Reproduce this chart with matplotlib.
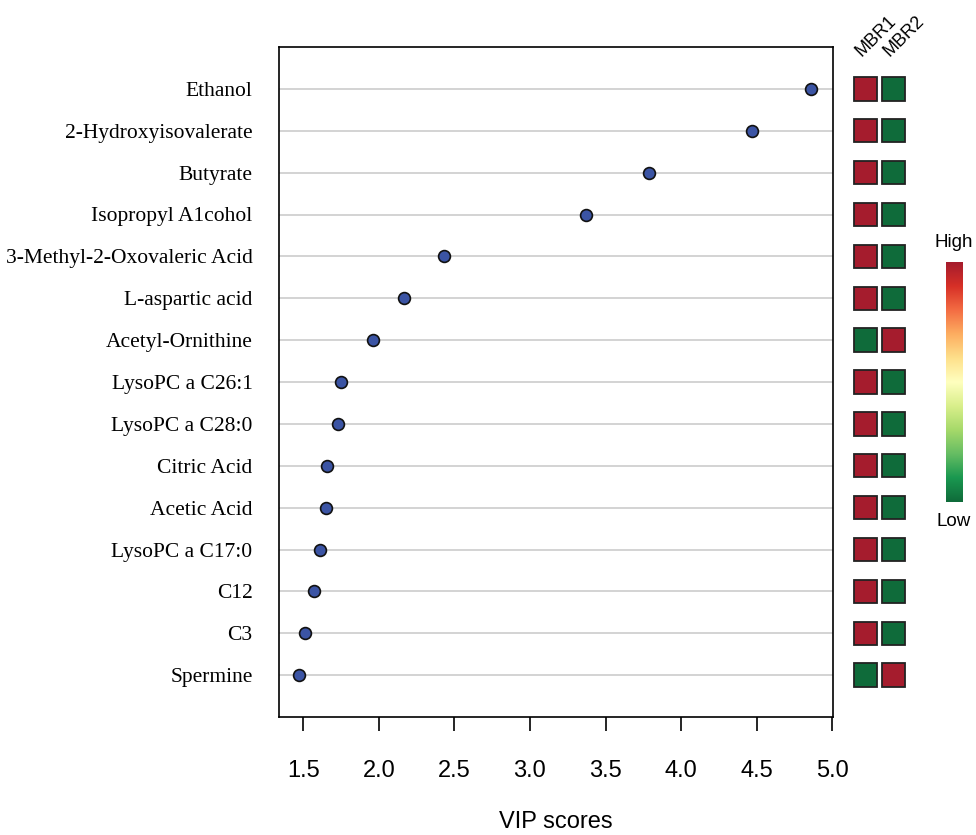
import numpy as np
import matplotlib.pyplot as plt
from matplotlib.patches import Rectangle
from matplotlib.colors import LinearSegmentedColormap

metabolites = ["Ethanol", "2-Hydroxyisovalerate", "Butyrate", "Isopropyl A1cohol",
               "3-Methyl-2-Oxovaleric Acid", "L-aspartic acid", "Acetyl-Ornithine",
               "LysoPC a C26:1", "LysoPC a C28:0", "Citric Acid", "Acetic Acid",
               "LysoPC a C17:0", "C12", "C3", "Spermine"]
vip = [4.86, 4.47, 3.79, 3.37, 2.43, 2.17, 1.96, 1.75, 1.73, 1.66, 1.65, 1.61, 1.57, 1.51, 1.47]
# relative level per group: 1 = high, 0 = low
mbr1 = [1, 1, 1, 1, 1, 1, 0, 1, 1, 1, 1, 1, 1, 1, 0]
mbr2 = [0, 0, 0, 0, 0, 0, 1, 0, 0, 0, 0, 0, 0, 0, 1]
groups = ["MBR1", "MBR2"]
ticks = [1.5, 2.0, 2.5, 3.0, 3.5, 4.0, 4.5, 5.0]

W, H = 976, 835
fig = plt.figure(figsize=(W / 100, H / 100), dpi=100)
cmap = LinearSegmentedColormap.from_list(
    "key", ["#0f6b3a", "#1a9850", "#66bd63", "#a6d96a", "#d9ef8b", "#ffffbf",
            "#fee08b", "#fdae61", "#f46d43", "#d73027", "#a51c2d"])

n = len(metabolites)
ypos = np.arange(n, 0, -1)  # first item at the top

# main dot chart
ax = fig.add_axes([279 / W, 1 - 717 / H, (833 - 279) / W, (717 - 47) / H])
for y in ypos:
    ax.axhline(y, color="#cccccc", lw=1.2, zorder=1)
ax.plot(vip, ypos, "o", ms=8.5, mfc="#3b54a4", mec="#111111", mew=1.2, zorder=3)
ax.set_xlim(1.34, 5.005)
ax.set_ylim(0, n + 1)
ax.set_yticks(ypos)
ax.set_yticklabels(metabolites, family="Liberation Serif", fontsize=15.5)
ax.tick_params(axis="y", length=0, pad=19)
ax.set_xticks(ticks)
ax.set_xticklabels(["%.1f" % t for t in ticks], family="Liberation Sans", fontsize=17)
ax.tick_params(axis="x", length=10, width=1.2, pad=21)
ax.set_xlabel("VIP scores", family="Liberation Sans", fontsize=17, labelpad=21)
for s in ax.spines.values():
    s.set_linewidth(1.2)

# heatmap squares
hx = fig.add_axes([852 / W, 1 - 717 / H, 55 / W, (717 - 47) / H])
hx.set_xlim(0, 2)
hx.set_ylim(0, n + 1)
hx.axis("off")
for j, col in enumerate([mbr1, mbr2]):
    for y, v in zip(ypos, col):
        hx.add_patch(Rectangle((j + 0.075, y - 0.28), 0.85, 0.56,
                               facecolor=cmap(float(v)), edgecolor="#222222", lw=1.3))
for j, g in enumerate(groups):
    hx.text(j + 0.45, n + 0.7, g, rotation=45, ha="left", va="bottom",
            rotation_mode="anchor", family="Liberation Sans", fontsize=13)

# colour key
cx = fig.add_axes([946 / W, 1 - 502 / H, 17 / W, 240 / H])
grad = np.linspace(1, 0, 256).reshape(-1, 1)
cx.imshow(grad, aspect="auto", cmap=cmap, vmin=0, vmax=1)
cx.set_xticks([])
cx.set_yticks([])
for s in cx.spines.values():
    s.set_visible(False)
fig.text(935 / W, 1 - 243 / H, "High", ha="left", va="center", family="Liberation Sans", fontsize=13.5)
fig.text(954 / W, 1 - 522 / H, "Low", ha="center", va="center", family="Liberation Sans", fontsize=13.5)

fig.savefig("out.png", dpi=100)
